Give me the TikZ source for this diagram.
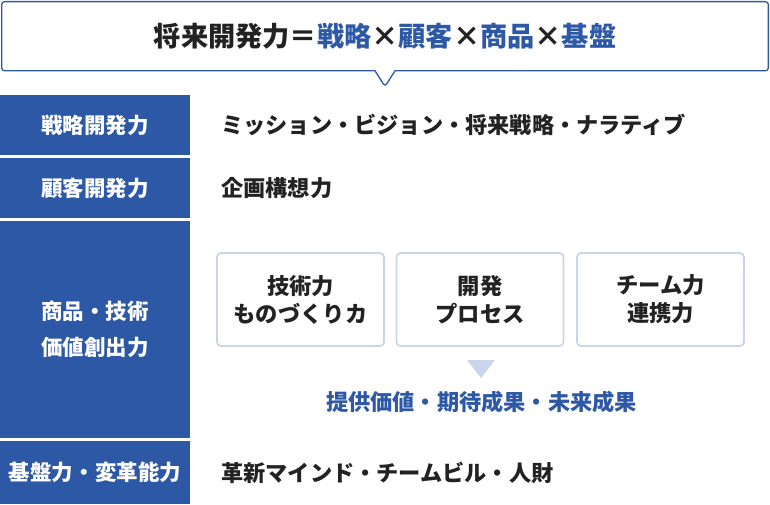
\documentclass[tikz,border=0pt]{standalone}
\usepackage{fontspec}
\setmainfont{Noto Sans CJK JP}
\usetikzlibrary{shapes.callouts}
\definecolor{mainblue}{RGB}{45,88,165}
\definecolor{paleblue}{RGB}{201,213,234}
\definecolor{inkgray}{RGB}{34,34,34}
\tikzset{
  rowlabel/.style={fill=mainblue, text=white, minimum width=190pt, inner sep=0pt,
    align=center, font=\bfseries\fontsize{21.5}{36}\selectfont},
  rowtext/.style={anchor=west, inner sep=0pt, text=inkgray,
    font=\bfseries\fontsize{22.2}{28}\selectfont},
  skillbox/.style={draw=paleblue, line width=1.8pt, rounded corners=4pt,
    minimum width=167pt, minimum height=93pt, inner sep=0pt, align=center,
    text=inkgray, font=\bfseries\fontsize{22.3}{28}\selectfont}
}
\begin{document}
\begin{tikzpicture}[x=1pt, y=-1pt]
\useasboundingbox (0,0) rectangle (770,504);
% title callout
\node[rectangle callout, draw=mainblue, line width=1.3pt, rounded corners=3pt,
  minimum width=766.7pt, minimum height=69.2pt, inner sep=0pt,
  callout absolute pointer={(385,86.5)}, callout pointer width=20pt,
  text=inkgray, font=\bfseries\fontsize{27.2}{30}\selectfont] (title) at (385,36.2)
  {将来開発力＝\textcolor{mainblue}{戦略}×\textcolor{mainblue}{顧客}×\textcolor{mainblue}{商品}×\textcolor{mainblue}{基盤}};
% left column
\node[rowlabel, minimum height=60pt] (strategy) at (95,125) {戦略開発力};
\node[rowlabel, minimum height=60pt] (customer) at (95,188) {顧客開発力};
\node[rowlabel, minimum height=217pt] (product) at (95,329.5) {商品・技術\\価値創出力};
\node[rowlabel, minimum height=63pt] (base) at (95,472.5) {基盤力・変革能力};
% right column
\node[rowtext] (strategytext) at (221,125) {ミッション・ビジョン・将来戦略・ナラティブ};
\node[rowtext] (customertext) at (221,188) {企画構想力};
\node[rowtext] (basetext) at (221,472.5) {革新マインド・チームビル・人財};
% skill boxes
\node[skillbox] (tech) at (300.5,299.5) {技術力\\ものづくりカ};
\node[skillbox] (process) at (480,299.5) {開発\\プロセス};
\node[skillbox] (team) at (660.5,299.5) {チーム力\\連携力};
\fill[paleblue] (467,360) -- (495,360) -- (481,378) -- cycle;
\node[rowtext, anchor=center, text=mainblue] (value) at (481.5,402)
  {提供価値・期待成果・未来成果};
\end{tikzpicture}
\end{document}
